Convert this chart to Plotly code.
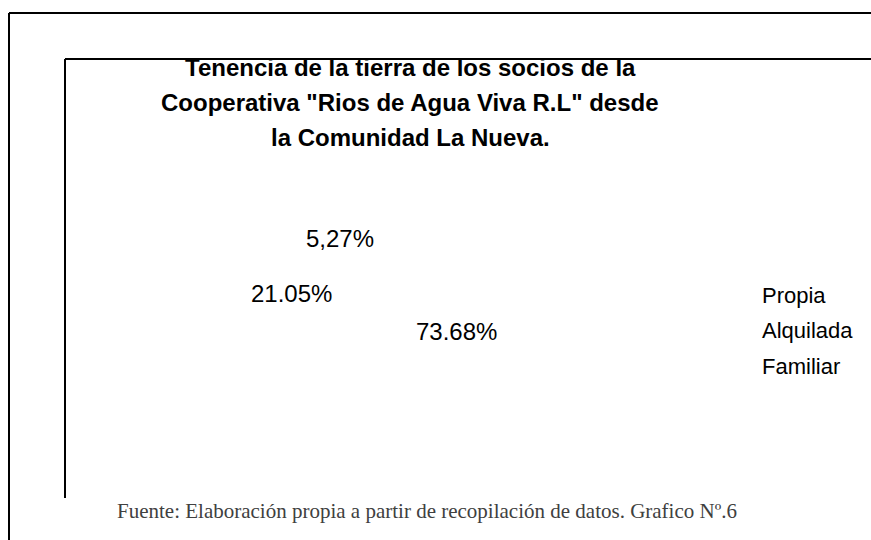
import plotly.graph_objects as go

W, H = 871, 540

categories = ["Propia", "Alquilada", "Familiar"]
values = [73.68, 21.05, 5.27]
pct_labels = ["73.68%", "21.05%", "5,27%"]

title_lines = [
    "Tenencia de la tierra de los socios de la",
    "Cooperativa \"Rios de Agua Viva R.L\" desde",
    "la Comunidad La Nueva.",
]
source_note = "Fuente: Elaboración propia a partir de recopilación de datos. Grafico Nº.6"


def px(x):
    return x / W


def py(y):
    return 1 - y / H


fig = go.Figure()
fig.add_trace(go.Pie(
    labels=categories,
    values=values,
    sort=False,
    direction="clockwise",
    textinfo="none",
    hoverinfo="label+percent",
    marker=dict(colors=["rgba(0,0,0,0)"] * 3, line=dict(width=0)),
    domain=dict(x=[0.25, 0.6], y=[0.15, 0.6]),
    showlegend=False,
))

annotations = []

# percentage labels (placed where the reference shows them)
label_pos = {"73.68%": (456, 331), "21.05%": (291, 293), "5,27%": (340, 238)}
for lab in pct_labels:
    x, y = label_pos[lab]
    annotations.append(dict(
        x=px(x), y=py(y), xref="paper", yref="paper", text=lab, showarrow=False,
        xanchor="center", yanchor="middle",
        font=dict(family="Liberation Sans, Arial", size=24, color="#000000"),
    ))

# legend entries (text only, as in the reference)
for i, cat in enumerate(categories):
    annotations.append(dict(
        x=px(760), y=py(295 + 35.5 * i), xref="paper", yref="paper", text=cat,
        showarrow=False, xanchor="left", yanchor="middle",
        font=dict(family="Liberation Sans, Arial", size=22, color="#000000"),
    ))

# title lines
for i, line in enumerate(title_lines):
    annotations.append(dict(
        x=px(410), y=py([68, 102, 137][i]), xref="paper", yref="paper",
        text="<b>" + line + "</b>", showarrow=False,
        xanchor="center", yanchor="middle",
        font=dict(family="Liberation Sans, Arial", size=24, color="#000000"),
    ))

# source note
annotations.append(dict(
    x=px(427), y=py(511), xref="paper", yref="paper",
    text=source_note, showarrow=False, xanchor="center", yanchor="middle",
    font=dict(family="Liberation Serif, Times New Roman", size=21, color="#404040"),
))

line_style = dict(color="#000000", width=2)
shapes = [
    dict(type="line", xref="paper", yref="paper", x0=px(9), x1=1, y0=py(13), y1=py(13), line=line_style),
    dict(type="line", xref="paper", yref="paper", x0=px(9), x1=px(9), y0=py(13), y1=0, line=line_style),
    dict(type="line", xref="paper", yref="paper", x0=px(65), x1=1, y0=py(59), y1=py(59), line=line_style),
    dict(type="line", xref="paper", yref="paper", x0=px(65), x1=px(65), y0=py(59), y1=py(498), line=line_style),
]

fig.update_layout(
    width=W, height=H,
    margin=dict(l=0, r=0, t=0, b=0),
    paper_bgcolor="#ffffff", plot_bgcolor="#ffffff",
    annotations=annotations,
    shapes=shapes,
    showlegend=False,
)

fig.write_html(
    "out.html",
    config={"displayModeBar": False},
    post_script="document.body.style.margin='0';document.body.style.overflow='hidden';",
)
